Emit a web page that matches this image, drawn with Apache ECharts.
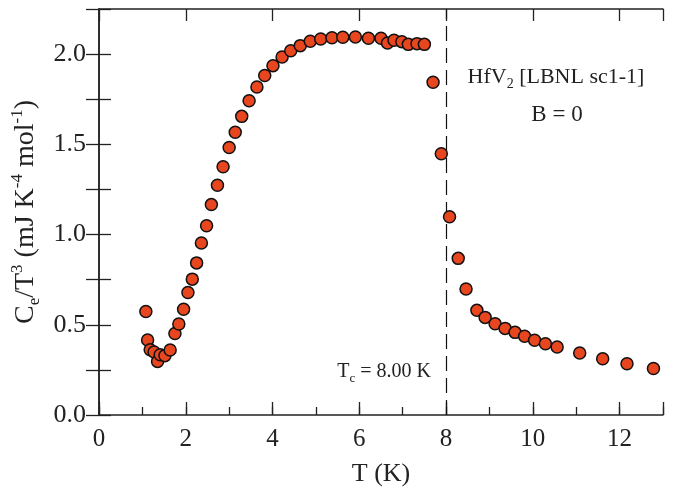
<!DOCTYPE html>
<html>
<head>
<meta charset="utf-8">
<script src="https://cdn.jsdelivr.net/npm/echarts@6/dist/echarts.min.js"></script>
<style>html,body{margin:0;padding:0;background:#fff;}#c{width:685px;height:488px;}</style>
</head>
<body>
<div id="c"></div>
<script>
// Temperature (K)
var temps = [1.08,1.12,1.18,1.27,1.35,1.41,1.52,1.64,1.75,1.84,1.95,2.05,2.15,2.25,2.36,2.48,2.59,2.73,2.86,3.00,3.14,3.29,3.46,3.64,3.82,4.01,4.22,4.42,4.64,4.87,5.11,5.37,5.62,5.91,6.21,6.50,6.65,6.80,6.98,7.13,7.33,7.50,7.70,7.89,8.08,8.28,8.46,8.71,8.90,9.13,9.36,9.59,9.81,10.04,10.29,10.56,11.08,11.61,12.17,12.78];
// Ce/T^3 (mJ K^-4 mol^-1)
var ceT3 = [0.574,0.416,0.362,0.349,0.297,0.334,0.329,0.360,0.452,0.504,0.586,0.679,0.753,0.843,0.953,1.049,1.166,1.273,1.376,1.482,1.567,1.655,1.742,1.818,1.881,1.936,1.984,2.019,2.047,2.071,2.084,2.091,2.093,2.095,2.088,2.088,2.062,2.077,2.069,2.054,2.058,2.054,1.844,1.448,1.099,0.868,0.698,0.580,0.541,0.506,0.480,0.458,0.436,0.414,0.395,0.377,0.344,0.312,0.284,0.258];
var xTicks = [0,2,4,6,8,10,12];
var yTicks = [0,0.5,1.0,1.5,2.0];
var tc = 8.0;

var serif = 'Liberation Serif';
var axisColor = '#222';
var pts = temps.map(function(t,i){return [t, ceT3[i]];});

function baseX(extra){
  return Object.assign({
    type:'value', min:0, max:13, gridIndex:0,
    axisLine:{show:true, lineStyle:{color:axisColor, width:1.5}},
    splitLine:{show:false},
    axisLabel:{show:false},
    axisTick:{show:true, inside:true, length:8, lineStyle:{color:axisColor, width:1.3}}
  }, extra);
}
function baseY(extra){
  return Object.assign({
    type:'value', min:0, max:2.25, gridIndex:0,
    axisLine:{show:true, lineStyle:{color:axisColor, width:1.5}},
    splitLine:{show:false},
    axisLabel:{show:false},
    axisTick:{show:true, inside:true, length:12, lineStyle:{color:axisColor, width:1.3}}
  }, extra);
}

var chart = echarts.init(document.getElementById('c'), null, {renderer:'canvas'});
chart.setOption({
  animation:false,
  backgroundColor:'#fff',
  grid:{left:99, right:22, top:9, bottom:73, containLabel:false, outerBoundsMode:'none'},
  xAxis:[
    baseX({position:'bottom', interval:1,
      name:'T (K)', nameLocation:'middle', nameGap:46,
      nameTextStyle:{fontFamily:serif, fontSize:26, color:axisColor},
      axisLabel:{show:true, customValues:xTicks, fontFamily:serif, fontSize:25, color:axisColor, margin:12,
        formatter:function(v){return String(v);}}}),
    baseX({position:'bottom', interval:2, axisLine:{show:false}, axisTick:{show:true, inside:true, length:13, lineStyle:{color:axisColor, width:1.3}}}),
    baseX({position:'top', interval:2, axisTick:{show:true, inside:true, length:12, lineStyle:{color:axisColor, width:1.3}}})
  ],
  yAxis:[
    baseY({position:'left', interval:0.25,
      name:'{n|C}{sub|e}{n|/T}{sup|3}{n| (mJ K}{sup|-4}{n| mol}{sup|-1}{n|)}',
      nameLocation:'middle', nameGap:55, nameRotate:90,
      nameTextStyle:{fontFamily:serif, fontSize:28, color:axisColor,
        rich:{
          n:{fontFamily:serif, fontSize:28, color:axisColor, lineHeight:34, verticalAlign:'middle'},
          sup:{fontFamily:serif, fontSize:17, color:axisColor, lineHeight:17, verticalAlign:'top'},
          sub:{fontFamily:serif, fontSize:17, color:axisColor, lineHeight:17, verticalAlign:'bottom'}
        }},
      axisLabel:{show:true, customValues:yTicks, fontFamily:serif, fontSize:26, color:axisColor, margin:13,
        formatter:function(v){return v.toFixed(1);}}}),
    baseY({position:'right', interval:0.25, axisTick:{show:true, inside:true, length:13, lineStyle:{color:axisColor, width:1.3}}})
  ],
  series:[{
    type:'scatter', xAxisIndex:0, yAxisIndex:0,
    data:pts,
    symbol:'circle', symbolSize:12,
    itemStyle:{color:'#e8461f', borderColor:'#111', borderWidth:1.5, opacity:1},
    z:5,
    markLine:{
      silent:true, symbol:['none','none'],
      label:{show:false},
      lineStyle:{color:'#111', type:[15,7], width:1.2},
      data:[{xAxis:tc}],
      z:2
    }
  }],
  graphic:[
    {type:'text', x:556, y:77, style:{
      text:'{n|HfV}{sub|2}{n| [LBNL sc1-1]}', align:'center', verticalAlign:'middle',
      rich:{
        n:{fontFamily:serif, fontSize:22, fill:axisColor, lineHeight:28, verticalAlign:'middle'},
        sub:{fontFamily:serif, fontSize:14, fill:axisColor, lineHeight:15, verticalAlign:'bottom'}
      }}},
    {type:'text', x:557, y:115, style:{
      text:'B = 0', align:'center', verticalAlign:'middle',
      fontFamily:serif, fontSize:23, fill:axisColor}},
    {type:'text', x:431, y:372, style:{
      text:'{n|T}{sub|c}{n| = 8.00 K}', align:'right', verticalAlign:'middle',
      rich:{
        n:{fontFamily:serif, fontSize:20, fill:axisColor, lineHeight:26, verticalAlign:'middle'},
        sub:{fontFamily:serif, fontSize:13, fill:axisColor, lineHeight:13, verticalAlign:'bottom'}
      }}}
  ]
});
</script>
</body>
</html>
